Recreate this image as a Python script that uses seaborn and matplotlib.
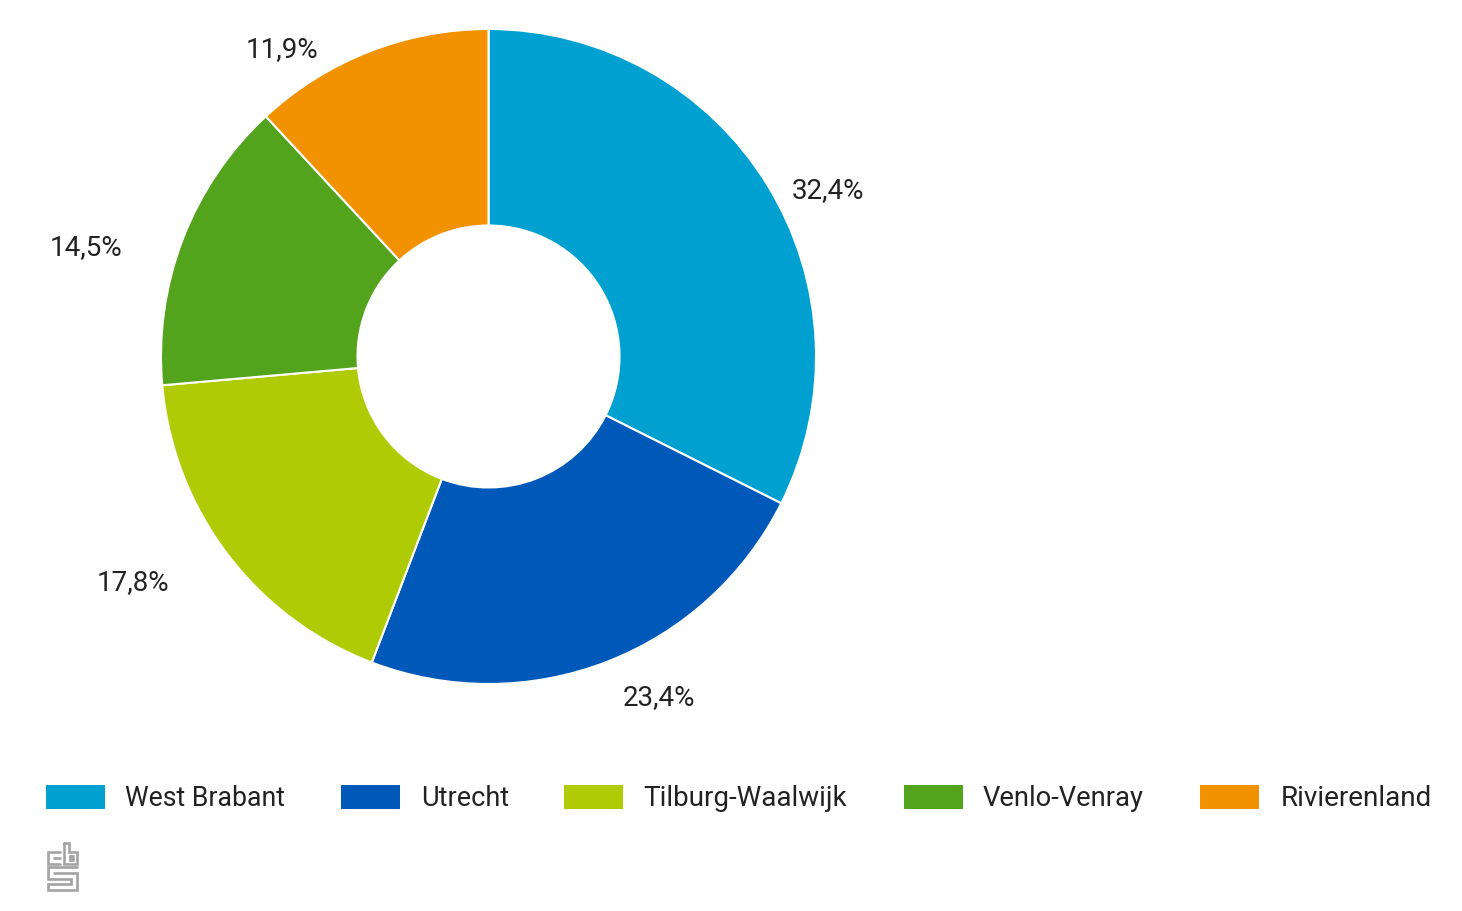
import numpy as np
import matplotlib
matplotlib.use('Agg')
import matplotlib.pyplot as plt
from matplotlib.lines import Line2D
from matplotlib.patches import Rectangle
import seaborn as sns

regions = ['West Brabant', 'Utrecht', 'Tilburg-Waalwijk', 'Venlo-Venray', 'Rivierenland']
shares = [32.4, 23.4, 17.8, 14.5, 11.9]
share_labels = ['32,4%', '23,4%', '17,8%', '14,5%', '11,9%']
region_colors = ['#00a1d1', '#0058b8', '#afcb05', '#53a31d', '#f39200']

sns.set_theme(style='white')
plt.rcParams['font.family'] = ['Roboto', 'DejaVu Sans']

W, H = 1462, 912
fig = plt.figure(figsize=(W / 100, H / 100), dpi=100)

# pie axes in pixels
R = 327.5
cx, cy = 488.5, 357.5
ax = fig.add_axes([(cx - R) / W, 1 - (cy + R) / H, 2 * R / W, 2 * R / H])
ax.pie(shares, colors=region_colors, startangle=90, counterclock=False, radius=1,
       wedgeprops=dict(width=1 - 131 / R, edgecolor='white', linewidth=1.5))
ax.set_xlim(-1, 1)
ax.set_ylim(-1, 1)

# value labels sit by hand next to the ring
label_px = [(828, 191), (659, 698), (133, 583), (86, 248), (282, 50)]
for txt, (px, py) in zip(share_labels, label_px):
    fig.text(px / W, 1 - py / H, txt, fontsize=20, color='#222222', ha='center', va='center')

# legend
swatch_x = [46, 341, 564, 904, 1200]
text_x = [125, 421, 643, 983, 1281]
legend_size = [19.2, 19.5, 20, 19.7, 20.1]
for name, col, sx, tx, fs in zip(regions, region_colors, swatch_x, text_x, legend_size):
    fig.add_artist(Rectangle((sx / W, 1 - 809.5 / H), 59 / W, 24 / H, facecolor=col, edgecolor='none',
                             transform=fig.transFigure))
    fig.text(tx / W, 1 - 799 / H, name, fontsize=fs, color='#222222', ha='left', va='center')

# cbs logo, traced in pixels
logo_paths = [
    [(60, 853), (48, 853), (48, 865), (60, 865)],
    [(60, 859), (54, 859)],
    [(64, 844), (64, 865), (77, 865), (77, 853), (69, 853), (69, 844), (64, 844)],
    [(70, 857), (73, 857), (73, 861), (70, 861), (70, 857)],
    [(77, 868), (48, 868), (48, 880), (71, 880), (71, 885), (48, 885), (48, 891), (77, 891), (77, 874), (54, 874)],
]
for path in logo_paths:
    xs = [p[0] / W for p in path]
    ys = [1 - p[1] / H for p in path]
    fig.add_artist(Line2D(xs, ys, color='#a3a3a3', linewidth=1.9, transform=fig.transFigure,
                          solid_joinstyle='miter'))

fig.savefig('out.png', dpi=100)
